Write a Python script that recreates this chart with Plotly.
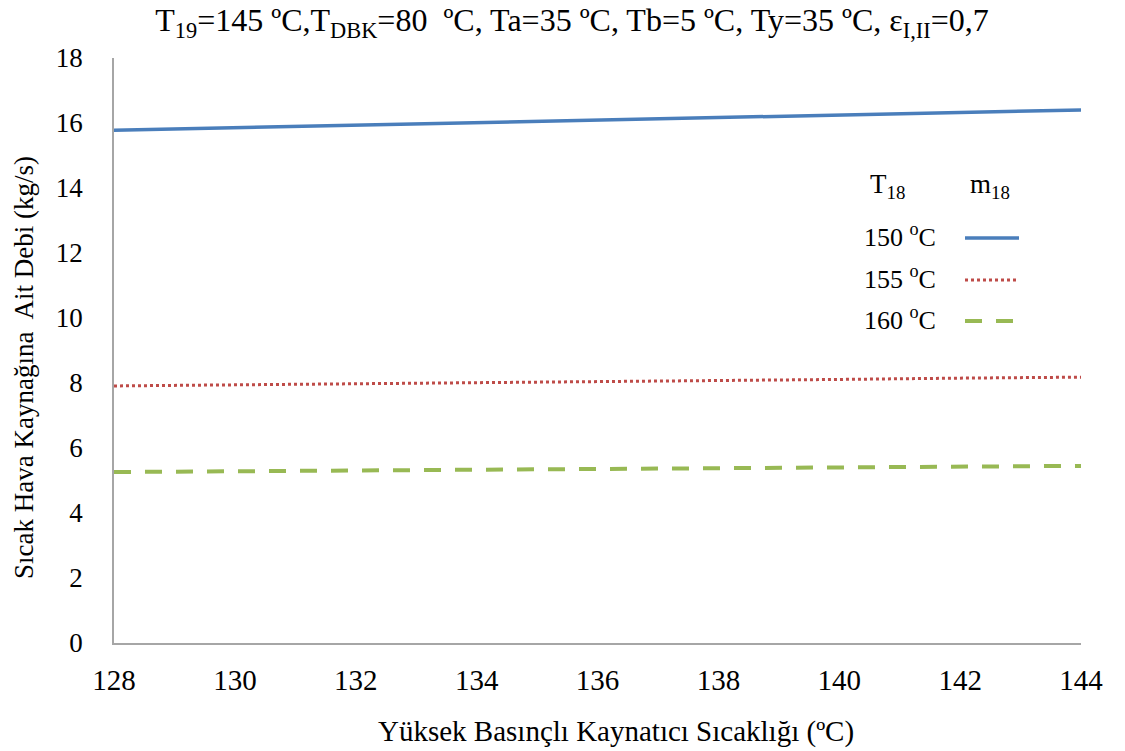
import plotly.graph_objects as go

x_vals = [128, 130, 132, 134, 136, 138, 140, 142, 144]
m18_150 = [15.78, 15.86, 15.93, 16.01, 16.09, 16.17, 16.24, 16.32, 16.40]
m18_155 = [7.91, 7.94, 7.98, 8.01, 8.04, 8.08, 8.11, 8.15, 8.18]
m18_160 = [5.26, 5.28, 5.31, 5.33, 5.35, 5.38, 5.40, 5.43, 5.45]
legend_labels = ["150 <sup>o</sup>C", "155 <sup>o</sup>C", "160 <sup>o</sup>C"]
x_ticks = [128, 130, 132, 134, 136, 138, 140, 142, 144]
y_ticks = [0, 2, 4, 6, 8, 10, 12, 14, 16, 18]

colors = ["#4A7EBB", "#BE4B48", "#98B954"]
dashes = ["solid", "dot", "17px,14px"]
widths = [3.5, 3, 4]
series = [m18_150, m18_155, m18_160]

FONT = "Liberation Serif"
W, H = 1125, 751
L, R, T, B = 114, 44, 58, 108
pw, ph = W - L - R, H - T - B

def px(xp):
    return (xp - L) / pw

def py(yp):
    return (H - B - yp) / ph

fig = go.Figure()
for ys, c, d, w, name in zip(series, colors, dashes, widths, legend_labels):
    fig.add_trace(go.Scatter(x=x_vals, y=ys, mode="lines", name=name,
                             line=dict(color=c, dash=d, width=w), showlegend=False))

shapes = []
annotations = []
leg_y = [238, 280, 321]
for yy, c, d, w, lab in zip(leg_y, colors, dashes, widths, legend_labels):
    shapes.append(dict(type="line", xref="paper", yref="paper",
                       x0=px(965), x1=px(1019), y0=py(yy), y1=py(yy),
                       line=dict(color=c, dash=d, width=w)))
    annotations.append(dict(xref="paper", yref="paper", x=px(938), y=py(yy - 3),
                            text=lab, showarrow=False, xanchor="right", yanchor="middle",
                            font=dict(family=FONT, size=26, color="#000")))
annotations.append(dict(xref="paper", yref="paper", x=px(887), y=py(186),
                        text="T<sub>18</sub>", showarrow=False, xanchor="center", yanchor="middle",
                        font=dict(family=FONT, size=27, color="#000")))
annotations.append(dict(xref="paper", yref="paper", x=px(990), y=py(186),
                        text="m<sub>18</sub>", showarrow=False, xanchor="center", yanchor="middle",
                        font=dict(family=FONT, size=27, color="#000")))
# axis titles
annotations.append(dict(xref="paper", yref="paper", x=px(616), y=py(731),
                        text="Yüksek Basınçlı Kaynatıcı Sıcaklığı (ºC)", showarrow=False,
                        xanchor="center", yanchor="middle",
                        font=dict(family=FONT, size=29, color="#000")))
annotations.append(dict(xref="paper", yref="paper", x=px(24), y=py(368),
                        text="Sıcak Hava Kaynağına  Ait Debi (kg/s)", showarrow=False,
                        textangle=-90, xanchor="center", yanchor="middle",
                        font=dict(family=FONT, size=27, color="#000")))

fig.update_layout(
    width=W, height=H,
    margin=dict(l=L, r=R, t=T, b=B),
    paper_bgcolor="white", plot_bgcolor="white",
    font=dict(family=FONT, size=27, color="#000"),
    title=dict(text="T<sub>19</sub>=145 ºC,T<sub>DBK</sub>=80  ºC, Ta=35 ºC, Tb=5 ºC, Ty=35 ºC, ε<sub>I,II</sub>=0,7",
               x=572 / W, xref="container", xanchor="center", y=1 - 20 / H, yanchor="middle",
               font=dict(family=FONT, size=32, color="#000")),
    xaxis=dict(range=[128, 144], tickvals=x_ticks, showgrid=False, zeroline=False,
               showline=True, linecolor="#A6A6A6", linewidth=1.5,
               ticks="", ticklabelstandoff=10,
               tickfont=dict(family=FONT, size=29, color="#000")),
    yaxis=dict(range=[0, 18], tickvals=y_ticks, showgrid=False, zeroline=False,
               showline=True, linecolor="#A6A6A6", linewidth=1.5,
               ticks="", ticklabelstandoff=24,
               tickfont=dict(family=FONT, size=27, color="#000")),
    shapes=shapes, annotations=annotations,
)

fig.write_html("out.html")
